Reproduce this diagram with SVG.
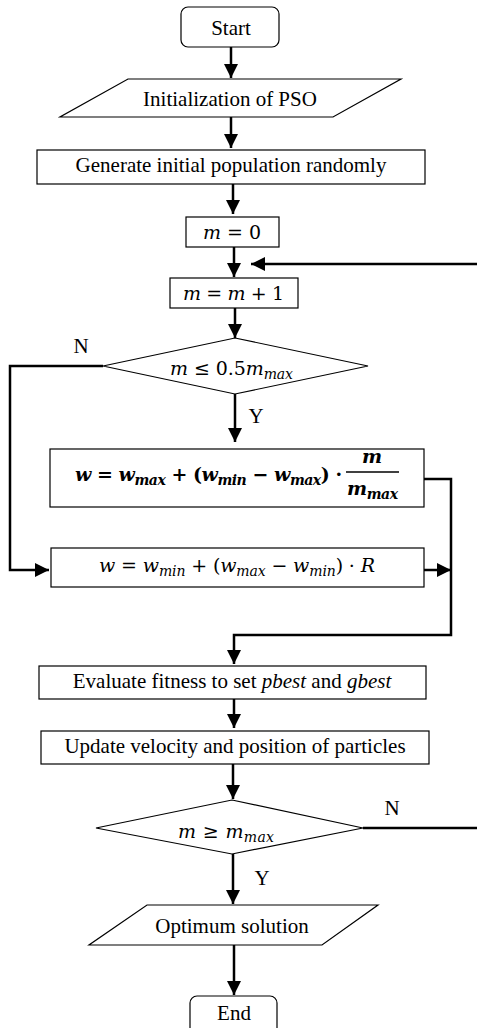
<svg xmlns="http://www.w3.org/2000/svg" width="477" height="1028" viewBox="0 0 477 1028">
<style>
.shape{fill:#fff;stroke:#000;stroke-width:1.2}
.conn{fill:none;stroke:#000;stroke-width:2.5}
.t{font-family:"Liberation Serif","Times New Roman",serif;font-size:21px;fill:#000}
.c{text-anchor:middle}
.m{font-family:"DejaVu Serif","Liberation Serif",serif;font-size:19px;fill:#000}
.i{font-style:italic}
.s{font-size:14px;font-style:italic}
.b{font-weight:bold}
</style>
<defs>
<marker id="ah" markerUnits="userSpaceOnUse" viewBox="0 0 14 14" refX="14" refY="7" markerWidth="14" markerHeight="14" orient="auto">
<path d="M0,0 L14,7 L0,14 z" fill="#000"/>
</marker>
</defs>
<rect width="477" height="1028" fill="#fff"/>
<g id="connectors">
<line class="conn" x1="231" y1="47" x2="231" y2="78" marker-end="url(#ah)"/>
<line class="conn" x1="231" y1="117" x2="231" y2="148" marker-end="url(#ah)"/>
<line class="conn" x1="233" y1="184" x2="233" y2="214" marker-end="url(#ah)"/>
<line class="conn" x1="234" y1="247" x2="234" y2="277" marker-end="url(#ah)"/>
<line class="conn" x1="477" y1="264" x2="251" y2="264" marker-end="url(#ah)"/>
<line class="conn" x1="235" y1="308" x2="235" y2="338" marker-end="url(#ah)"/>
<polyline class="conn" points="103,366 10,366 10,570 49,570" marker-end="url(#ah)"/>
<line class="conn" x1="235" y1="394" x2="235" y2="442" marker-end="url(#ah)"/>
<polyline class="conn" points="424,479 451,479 451,635 234,635 234,664" marker-end="url(#ah)"/>
<line class="conn" x1="424" y1="570" x2="451" y2="570" marker-end="url(#ah)"/>
<line class="conn" x1="234" y1="699" x2="234" y2="728" marker-end="url(#ah)"/>
<line class="conn" x1="233" y1="764" x2="233" y2="799" marker-end="url(#ah)"/>
<line class="conn" x1="363" y1="828" x2="477" y2="828"/>
<line class="conn" x1="233" y1="854" x2="233" y2="904" marker-end="url(#ah)"/>
<line class="conn" x1="234" y1="945" x2="234" y2="995" marker-end="url(#ah)"/>
</g>
<g id="start">
<rect class="shape" x="181" y="7" width="98" height="40" rx="7"/>
<text class="t c" x="231" y="35">Start</text>
</g>
<g id="init">
<polygon class="shape" points="128,79 401,79 333,117 60,117"/>
<text class="t c" x="230" y="106">Initialization of PSO</text>
</g>
<g id="generate">
<rect class="shape" x="37" y="150" width="388" height="34"/>
<text class="t c" x="231" y="172">Generate initial population randomly</text>
</g>
<g id="m0">
<rect class="shape" x="186" y="217" width="93" height="30"/>
<text class="m" x="203" y="239" textLength="58" lengthAdjust="spacing"><tspan class="i">m</tspan> = 0</text>
</g>
<g id="minc">
<rect class="shape" x="170" y="278" width="128" height="30"/>
<text class="m" x="183" y="300" textLength="101" lengthAdjust="spacing"><tspan class="i">m</tspan> = <tspan class="i">m</tspan> + 1</text>
</g>
<g id="cond1">
<polygon class="shape" points="235,338 368,366 235,394 103,366"/>
<text class="m" x="170" y="375" textLength="123" lengthAdjust="spacing"><tspan class="i">m</tspan> ≤ 0.5<tspan class="i">m</tspan><tspan class="s" dy="4">max</tspan></text>
<text class="t c" x="81" y="353">N</text>
<text class="t c" x="256" y="423">Y</text>
</g>
<g id="wlinear">
<rect class="shape" x="50" y="449" width="374" height="58"/>
<text class="m b" x="75" y="481" textLength="267" lengthAdjust="spacing"><tspan class="i">w</tspan> = <tspan class="i">w</tspan><tspan class="s" dy="4">max</tspan><tspan dy="-4"> + (</tspan><tspan class="i">w</tspan><tspan class="s" dy="4">min</tspan><tspan dy="-4"> − </tspan><tspan class="i">w</tspan><tspan class="s" dy="4">max</tspan><tspan dy="-4">) ·</tspan></text>
<line x1="346" y1="472" x2="399" y2="472" stroke="#000" stroke-width="1.5"/>
<text class="m b c" x="372" y="463"><tspan class="i">m</tspan></text>
<text class="m b" x="347" y="495" textLength="51" lengthAdjust="spacing"><tspan class="i">m</tspan><tspan class="s" dy="4">max</tspan></text>
</g>
<g id="wrandom">
<rect class="shape" x="51" y="548" width="373" height="39"/>
<text class="m" x="99" y="572" textLength="276" lengthAdjust="spacing"><tspan class="i">w</tspan> = <tspan class="i">w</tspan><tspan class="s" dy="4">min</tspan><tspan dy="-4"> + (</tspan><tspan class="i">w</tspan><tspan class="s" dy="4">max</tspan><tspan dy="-4"> − </tspan><tspan class="i">w</tspan><tspan class="s" dy="4">min</tspan><tspan dy="-4">) · </tspan><tspan class="i">R</tspan></text>
</g>
<g id="evaluate">
<rect class="shape" x="39" y="666" width="387" height="33"/>
<text class="t c" x="232" y="688">Evaluate fitness to set <tspan class="i">pbest</tspan> and <tspan class="i">gbest</tspan></text>
</g>
<g id="update">
<rect class="shape" x="41" y="731" width="388" height="33"/>
<text class="t c" x="235" y="753">Update velocity and position of particles</text>
</g>
<g id="cond2">
<polygon class="shape" points="232,800 363,828 232,854 96,828"/>
<text class="m" x="178" y="838" textLength="96" lengthAdjust="spacing"><tspan class="i">m</tspan> ≥ <tspan class="i">m</tspan><tspan class="s" dy="4">max</tspan></text>
<text class="t c" x="392" y="815">N</text>
<text class="t c" x="262" y="885">Y</text>
</g>
<g id="optimum">
<polygon class="shape" points="147,905 378,905 322,945 89,945"/>
<text class="t c" x="232" y="933">Optimum solution</text>
</g>
<g id="end">
<rect class="shape" x="190" y="996" width="87" height="40" rx="7"/>
<text class="t c" x="234" y="1020">End</text>
</g>
</svg>
